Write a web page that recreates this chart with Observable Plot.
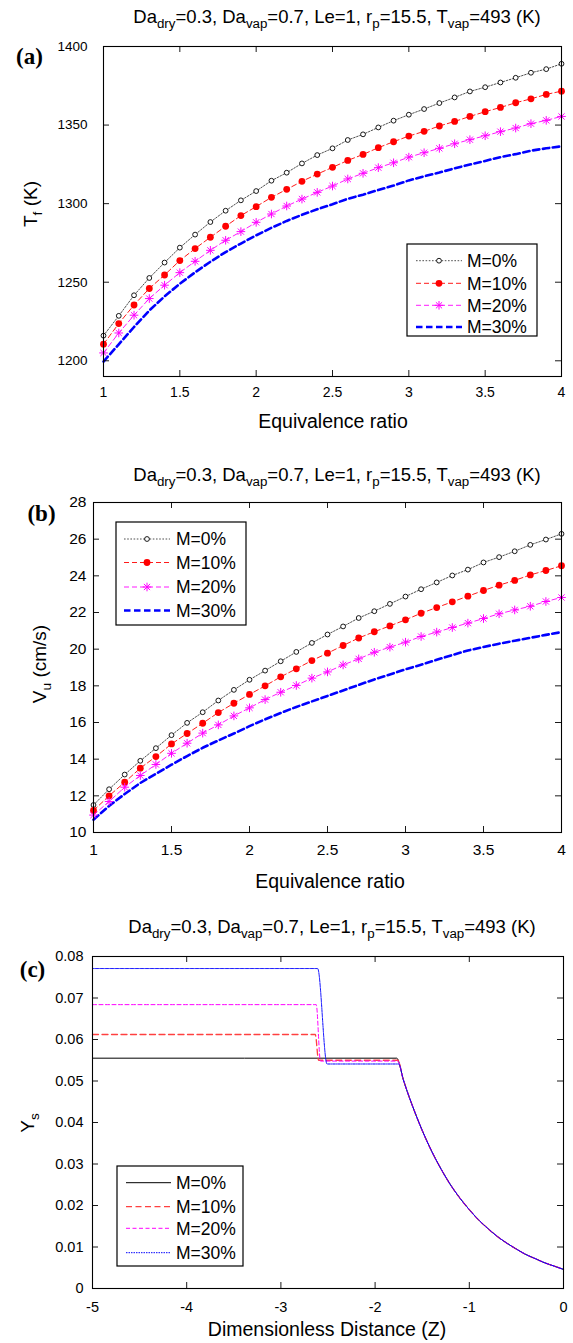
<!DOCTYPE html>
<html><head><meta charset="utf-8">
<script src="https://cdn.jsdelivr.net/npm/d3@7"></script>
<script src="https://cdn.jsdelivr.net/npm/@observablehq/plot@0.6"></script>
<style>
html,body{margin:0;padding:0;background:#fff;}
#root{position:relative;width:573px;height:1343px;overflow:hidden;font-family:"Liberation Sans",Arial,Helvetica,sans-serif;color:#000;background:#fff;}
#root svg.plot{position:absolute;left:0;}
.lbl{position:absolute;white-space:nowrap;line-height:1;}
.lbl sub{font-size:0.72em;vertical-align:-0.42em;line-height:0;}
.panel{font-family:"Liberation Serif","Times New Roman",serif;font-weight:bold;font-size:23px;}
</style></head>
<body><div id="root"></div>
<script>
// ---------- DATA ----------
const phi = [1,1.1,1.2,1.3,1.4,1.5,1.6,1.7,1.8,1.9,2,2.1,2.2,2.3,2.4,2.5,2.6,2.7,2.8,2.9,3,3.1,3.2,3.3,3.4,3.5,3.6,3.7,3.8,3.9,4];
const seriesNames = ["M=0%","M=10%","M=20%","M=30%"];

// (a) flame temperature T_f (K)
const TfM0  = [1216,1228.6,1241.7,1252.7,1262.5,1272,1280.3,1288.3,1295.5,1302.1,1308,1314.6,1319.7,1325.6,1330.9,1335.2,1340.5,1344.1,1348.5,1352.8,1356.6,1360.2,1364,1367.6,1371.4,1374.1,1377.1,1380.1,1383.3,1385.6,1389];
const TfM10 = [1210.6,1223.7,1235.5,1246,1254.6,1263.8,1271.4,1278.6,1285.6,1292.4,1298.1,1304,1309.1,1314.2,1318.8,1323.1,1327.5,1331.3,1335.6,1339.4,1343,1346,1349.4,1352.3,1355.5,1358.5,1361.2,1364.2,1366.7,1369.5,1371.6];
const TfM20 = [1205,1217.7,1229,1239.6,1248.1,1256.1,1263.3,1270.3,1276.7,1282.2,1288.1,1293.4,1298.5,1302.9,1307.2,1311.2,1315.7,1319.3,1322.9,1326,1329.6,1332.4,1335.2,1338.1,1340.7,1343.2,1345.8,1348.1,1350.9,1353,1355.5];
const TfM30 = [1199.5,1210.5,1221.5,1232,1241,1249,1256.3,1263,1269.2,1274.6,1279.8,1284.6,1289,1292.9,1296.4,1299.6,1303.1,1305.7,1308.7,1311.5,1314.8,1317.4,1319.8,1322.5,1324.9,1327.2,1329.6,1331.5,1333.7,1335.2,1336.5];

// (b) burning velocity V_u (cm/s)
const VuM0  = [11.5,12.36,13.16,13.91,14.6,15.31,15.98,16.56,17.2,17.78,18.33,18.83,19.34,19.85,20.34,20.8,21.24,21.7,22.07,22.47,22.87,23.27,23.64,24.02,24.34,24.73,25.02,25.34,25.69,25.98,26.29];
const VuM10 = [11.2,12.0,12.74,13.51,14.14,14.83,15.4,15.96,16.54,17.05,17.53,18.0,18.49,18.93,19.38,19.78,20.2,20.61,20.95,21.27,21.6,21.96,22.27,22.58,22.89,23.2,23.49,23.75,24.05,24.29,24.55];
const VuM20 = [10.95,11.69,12.47,13.11,13.71,14.32,14.87,15.42,15.87,16.36,16.8,17.25,17.65,18.02,18.42,18.76,19.14,19.47,19.83,20.11,20.38,20.69,20.93,21.18,21.42,21.67,21.93,22.14,22.34,22.6,22.82];
const VuM30 = [10.7,11.45,12.1,12.7,13.2,13.7,14.17,14.62,15.02,15.4,15.8,16.17,16.52,16.85,17.15,17.45,17.75,18.05,18.35,18.62,18.9,19.15,19.42,19.68,19.93,20.12,20.3,20.46,20.62,20.78,20.93];

// (c) Y_s vs dimensionless distance Z
const zM0  = [-5,-1.77];               const ysM0  = [0.0555,0.0555];
const zM10 = [-5,-2.635,-2.6,-1.76];   const ysM10 = [0.0612,0.0612,0.0550,0.0550];
const zM20 = [-5,-2.625,-2.58,-1.76];  const ysM20 = [0.0684,0.0684,0.0548,0.0548];
const zM30 = [-5,-2.61,-2.51,-1.75];   const ysM30 = [0.0771,0.0771,0.0541,0.0541];
const zDecay  = [-1.7,-1.65,-1.6,-1.5,-1.4,-1.3,-1.2,-1.1,-1.0,-0.9,-0.8,-0.7,-0.6,-0.5,-0.4,-0.3,-0.2,-0.1,0];
const ysDecay = [0.0503,0.0469,0.0438,0.0381,0.0331,0.0288,0.0250,0.0218,0.0190,0.0165,0.0144,0.0125,0.0109,0.0095,0.0082,0.0072,0.0062,0.0054,0.0046];

// ticks
const xTicksAB = [1,1.5,2,2.5,3,3.5,4];
const yTicksA = [1200,1250,1300,1350,1400];
const yTicksB = [10,12,14,16,18,20,22,24,26,28];
const xTicksC = [-5,-4,-3,-2,-1,0];
const yTicksC = [0,0.01,0.02,0.03,0.04,0.05,0.06,0.07,0.08];

// ---------- TABLES ----------
const tableA = [TfM0,TfM10,TfM20,TfM30].map((arr,k)=>arr.map((v,i)=>({x:phi[i],y:v,s:seriesNames[k]})));
const tableB = [VuM0,VuM10,VuM20,VuM30].map((arr,k)=>arr.map((v,i)=>({x:phi[i],y:v,s:seriesNames[k]})));
const tableC = [[zM0,ysM0],[zM10,ysM10],[zM20,ysM20],[zM30,ysM30]].map(([zs,ys],k)=>
  zs.map((z,i)=>({x:z,y:ys[i],s:seriesNames[k]})).concat(zDecay.map((z,i)=>({x:z,y:ysDecay[i],s:seriesNames[k]}))));

// ---------- STYLES ----------
const asterisk = {draw(ctx, size){const r=Math.sqrt(size/Math.PI);const d=r*0.72;
  ctx.moveTo(-r,0);ctx.lineTo(r,0);ctx.moveTo(0,-r);ctx.lineTo(0,r);
  ctx.moveTo(-d,-d);ctx.lineTo(d,d);ctx.moveTo(-d,d);ctx.lineTo(d,-d);}};
const stylesAB = [
  {stroke:"#222",width:0.8,dash:"1.6,1.6",marker:"circle"},
  {stroke:"#ff0000",width:0.9,dash:"5,3",marker:"dot"},
  {stroke:"#ff00ff",width:0.9,dash:"5,3",marker:"asterisk"},
  {stroke:"#0000ff",width:2.6,dash:"6.5,3.5",marker:null}
];
const stylesC = [
  {stroke:"#000",width:1,dash:null},
  {stroke:"#ff4040",width:1.3,dash:"6,3.5"},
  {stroke:"#ff00ff",width:1,dash:"4,2.5"},
  {stroke:"#0000ff",width:1,dash:"1.5,1"}
];

const root = document.getElementById("root");
const W = 573, TICK = 6;
const fmt = d => String(d);

function seriesMarks(table, styles){
  const out = [];
  table.forEach((rows,k)=>{
    const st = styles[k];
    out.push(Plot.line(rows,{x:"x",y:"y",stroke:st.stroke,strokeWidth:st.width,strokeDasharray:st.dash}));
  });
  table.forEach((rows,k)=>{
    const st = styles[k];
    if(st.marker==="circle") out.push(Plot.dot(rows,{x:"x",y:"y",r:2.4,fill:"white",stroke:"#000",strokeWidth:0.9}));
    if(st.marker==="dot") out.push(Plot.dot(rows,{x:"x",y:"y",r:3.4,fill:"#ff0000",stroke:"none"}));
    if(st.marker==="asterisk") out.push(Plot.dot(rows,{x:"x",y:"y",r:4.3,symbol:asterisk,fill:"none",stroke:"#ff00ff",strokeWidth:1}));
  });
  return out;
}

function panel(o){
  const iw = W - o.mL - o.mR, ih = o.height - o.mT - o.mB;
  const svg = Plot.plot({
    width:W, height:o.height, marginLeft:o.mL, marginRight:o.mR, marginTop:o.mT, marginBottom:o.mB,
    x:{domain:o.xDomain,label:null}, y:{domain:o.yDomain,label:null},
    style:{fontFamily:'"Liberation Sans",Arial,sans-serif',fontSize:o.fs+"px",color:"#000",background:"transparent",overflow:"visible"},
    marks:[
      ...o.marks,
      Plot.tickX(o.xTicks,{x:d=>d,insetTop:ih-TICK,stroke:"#000",strokeWidth:0.9}),
      Plot.tickX(o.xTicks,{x:d=>d,insetBottom:ih-TICK,stroke:"#000",strokeWidth:0.9}),
      Plot.tickY(o.yTicks,{y:d=>d,insetRight:iw-TICK,stroke:"#000",strokeWidth:0.9}),
      Plot.tickY(o.yTicks,{y:d=>d,insetLeft:iw-TICK,stroke:"#000",strokeWidth:0.9}),
      Plot.axisX(o.xTicks,{tickSize:0,tickPadding:o.xPad,tickFormat:fmt,label:null,fontSize:o.xfs||o.fs}),
      Plot.axisY(o.yTicks,{tickSize:0,tickPadding:o.yPad,tickFormat:fmt,label:null}),
      Plot.frame({stroke:"#000",strokeWidth:1.1})
    ]
  });
  svg.classList.add("plot");
  svg.style.top = o.top+"px";
  root.appendChild(svg);
}

function text(html,x,y,fs,extra="",rot=false){
  const d = document.createElement("div");
  d.className = "lbl "+extra;
  d.innerHTML = html;
  d.style.left = x+"px"; d.style.top = y+"px";
  if(fs) d.style.fontSize = fs+"px";
  d.style.transform = "translate(-50%,-50%)"+(rot?" rotate(-90deg)":"");
  root.appendChild(d);
}

function legend(o, styles){
  const svg = d3.create("svg").attr("width",o.w+2).attr("height",o.h+2)
    .style("position","absolute").style("left",(o.left-1)+"px").style("top",(o.top-1)+"px");
  svg.append("rect").attr("x",1).attr("y",1).attr("width",o.w).attr("height",o.h).attr("fill","white").attr("stroke","#000").attr("stroke-width",1.2);
  seriesNames.forEach((name,k)=>{
    const st = styles[k], y = 1+o.rows[k], x0 = 1+o.x0, x1 = 1+o.x1, xm=(x0+x1)/2;
    svg.append("line").attr("x1",x0).attr("x2",x1).attr("y1",y).attr("y2",y)
      .attr("stroke",st.stroke).attr("stroke-width",st.width).attr("stroke-dasharray",st.dash);
    if(st.marker==="circle") svg.append("circle").attr("cx",xm).attr("cy",y).attr("r",2.4).attr("fill","white").attr("stroke","#000").attr("stroke-width",0.9);
    if(st.marker==="dot") svg.append("circle").attr("cx",xm).attr("cy",y).attr("r",3.4).attr("fill","#ff0000");
    if(st.marker==="asterisk"){const r=4.3,d=r*0.72;
      svg.append("path").attr("d",`M${xm-r},${y}H${xm+r}M${xm},${y-r}V${y+r}M${xm-d},${y-d}L${xm+d},${y+d}M${xm-d},${y+d}L${xm+d},${y-d}`).attr("stroke","#ff00ff").attr("stroke-width",1).attr("fill","none");}
    svg.append("text").attr("x",1+o.tx).attr("y",y).attr("dy","0.36em").attr("font-size",o.fs).attr("font-family",'"Liberation Sans",Arial,sans-serif').text(name);
  });
  root.appendChild(svg.node());
}

const titleHTML = "Da<sub>dry</sub>=0.3, Da<sub>vap</sub>=0.7, Le=1, r<sub>p</sub>=15.5, T<sub>vap</sub>=493 (K)";
const TFS = 18.5, LFS = 19.5;

// ---------- PANEL (a) ----------
panel({top:0,height:440,mL:103,mR:12,mT:46,mB:64,xDomain:[1,4],yDomain:[1190,1400],xTicks:xTicksAB,yTicks:yTicksA,fs:13.5,xfs:14,xPad:11,yPad:16,
  marks:seriesMarks(tableA,stylesAB)});
text(titleHTML,337,17,TFS);
text("(a)",29.5,56,null,"panel");
text("T<sub>f</sub> (K)",30,204,19,"",true);
text("Equivalence ratio",333,422,LFS);
legend({left:407,top:244,w:130,h:92,rows:[16.7,39.3,61.3,83],x0:9,x1:55,tx:60,fs:17.5},stylesAB);

// ---------- PANEL (b) ----------
panel({top:450,height:440,mL:93,mR:12,mT:52,mB:58,xDomain:[1,4],yDomain:[10,28],xTicks:xTicksAB,yTicks:yTicksB,fs:15.5,xPad:11,yPad:7,
  marks:seriesMarks(tableB,stylesAB)});
text(titleHTML,337,475,TFS);
text("(b)",41.5,513,null,"panel");
text("V<sub>u</sub> (cm/s)",39,664,19,"",true);
text("Equivalence ratio",330,882,LFS);
legend({left:116,top:522,w:130,h:103,rows:[17,40.5,65,88.5],x0:8,x1:54,tx:60,fs:17.5},stylesAB);

// ---------- PANEL (c) ----------
panel({top:900,height:443,mL:92,mR:10,mT:56,mB:55,xDomain:[-5,0],yDomain:[0,0.08],xTicks:xTicksC,yTicks:yTicksC,fs:14.5,xPad:13,yPad:9,
  marks:tableC.map((rows,k)=>Plot.line(rows,{x:"x",y:"y",curve:"monotone-x",stroke:stylesC[k].stroke,strokeWidth:stylesC[k].width,strokeDasharray:stylesC[k].dash}))});
text(titleHTML,332,927,TFS);
text("(c)",32.5,969,null,"panel");
text("Y<sub>s</sub>",27,1123,19,"",true);
text("Dimensionless Distance (Z)",327,1330,LFS);
legend({left:117,top:1166,w:126,h:100,rows:[16.7,40.7,62.3,86.7],x0:9,x1:54,tx:59,fs:17.5},stylesC);
</script>
</body></html>
